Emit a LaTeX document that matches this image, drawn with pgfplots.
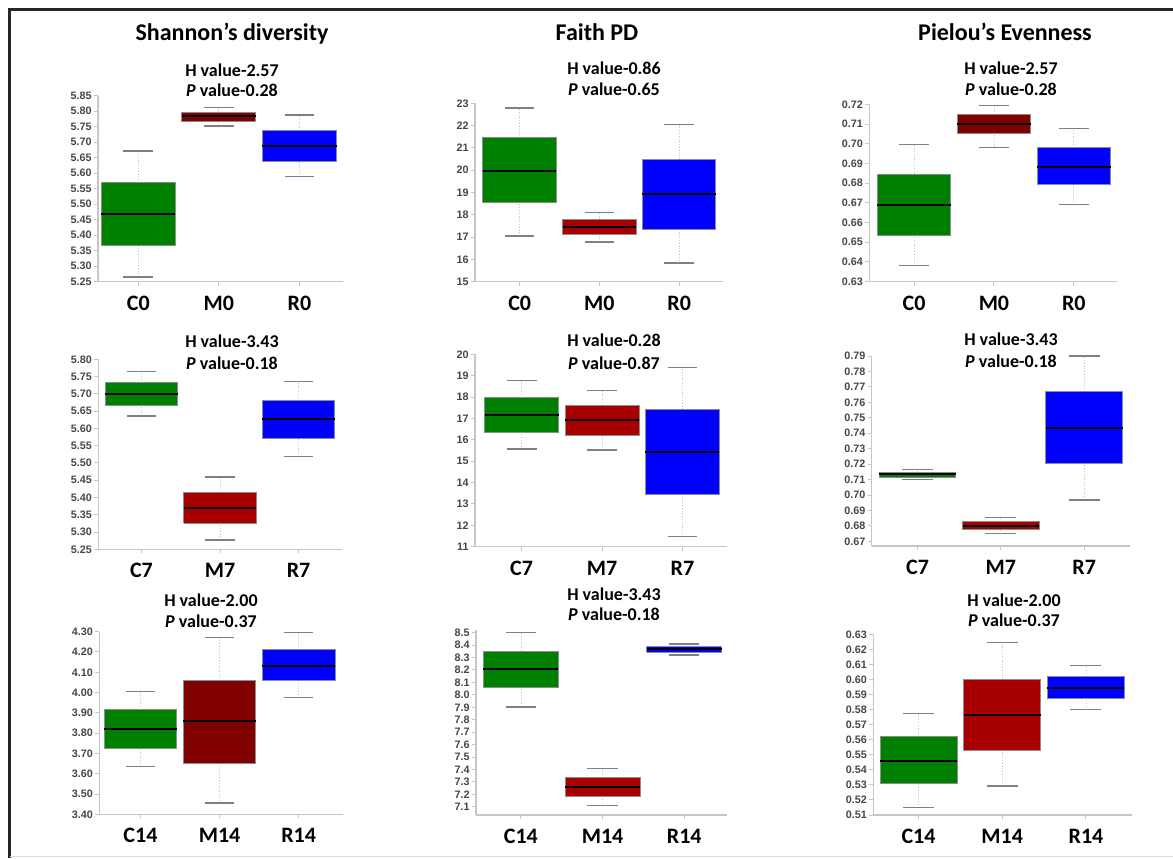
\documentclass[border=0pt]{standalone}
\usepackage{pgfplots}
\pgfplotsset{compat=1.18}
\usepackage{fontspec}
\setmainfont{Carlito}
\newfontfamily\tickff{Liberation Sans}

\definecolor{boxgreen}{RGB}{0,128,0}
\definecolor{boxblue}{RGB}{0,0,255}
\definecolor{maroonA}{RGB}{128,0,0}
\definecolor{maroonB}{RGB}{168,0,0}
\definecolor{axisgray}{RGB}{198,198,198}
\definecolor{edgegray}{RGB}{140,140,140}
\definecolor{capgray}{RGB}{128,128,128}
\definecolor{stemgray}{RGB}{195,195,195}
\definecolor{ticktext}{RGB}{70,70,70}

\newcommand\tickfont{\tickff\bfseries\fontsize{5.4}{6}\selectfont}
\newcommand\catfont{\bfseries\fontsize{11}{12}\selectfont}
\newcommand\statfont{\bfseries\fontsize{9}{10}\selectfont}
\newcommand\titlefont{\bfseries\fontsize{12}{14}\selectfont}

\pgfplotsset{
  panel/.style={
    scale only axis, anchor=south west,
    axis x line*=bottom, axis y line*=left,
    axis line style={draw=axisgray, line width=0.7pt},
    xtick={1,2,3},
    tick style={draw=axisgray, line width=0.5pt},
    major tick length=2pt,
    tick align=outside,
    xticklabel style={font=\catfont, text=black, yshift=-1.5pt},
    yticklabel style={font=\tickfont, text=ticktext, inner sep=1pt},
    /pgf/number format/assume math mode=true,
    scaled y ticks=false,
    clip=false,
  },
  dec2/.style={/pgf/number format/fixed, /pgf/number format/fixed zerofill, /pgf/number format/precision=2},
  dec1/.style={/pgf/number format/fixed, /pgf/number format/fixed zerofill, /pgf/number format/precision=1},
}

% one box: position, lower whisker, lower quartile, median, upper quartile, upper whisker, fill
\newcommand\bx[7]{%
  \pgfmathsetmacro\bl{#1-0.46}\pgfmathsetmacro\br{#1+0.46}%
  \pgfmathsetmacro\cl{#1-0.185}\pgfmathsetmacro\cr{#1+0.185}%
  \edef\drawbox{%
    \noexpand\addplot[stemgray, densely dotted, line width=0.4pt, mark=none]
      coordinates {(#1,#2) (#1,#3)};
    \noexpand\addplot[stemgray, densely dotted, line width=0.4pt, mark=none]
      coordinates {(#1,#5) (#1,#6)};
    \noexpand\addplot[draw=edgegray, line width=0.5pt, fill=#7, mark=none]
      coordinates {(\bl,#3) (\br,#3) (\br,#5) (\bl,#5) (\bl,#3)};
    \noexpand\addplot[black, line width=1pt, mark=none]
      coordinates {(\bl,#4) (\br,#4)};
    \noexpand\addplot[capgray, line width=0.75pt, mark=none]
      coordinates {(\cl,#2) (\cr,#2)};
    \noexpand\addplot[capgray, line width=0.75pt, mark=none]
      coordinates {(\cl,#6) (\cr,#6)};
  }\drawbox}

\begin{document}
\begin{tikzpicture}
\path[use as bounding box] (0,0) rectangle (586.5pt,429pt);
% frame
\draw[black!85, line width=1.6pt] (4.75pt,0pt) -- (4.75pt,424.25pt) -- (586.5pt,424.25pt);
\draw[black!15, line width=0.6pt] (4.75pt,0.75pt) -- (586.5pt,0.75pt);

% column titles
\node[anchor=base, font=\titlefont] at (116pt,408.5pt) {Shannon’s diversity};
\node[anchor=base, font=\titlefont] at (298.5pt,408.5pt) {Faith PD};
\node[anchor=base, font=\titlefont] at (502.5pt,408.5pt) {Pielou’s Evenness};

% Kruskal-Wallis statistics
\node[anchor=base, font=\statfont] at (116pt,390.65pt) {H value-2.57};
\node[anchor=base, font=\statfont] at (116pt,380.65pt) {\textit{P} value-0.28};
\node[anchor=base, font=\statfont] at (307pt,391.5pt) {H value-0.86};
\node[anchor=base, font=\statfont] at (307pt,381.15pt) {\textit{P} value-0.65};
\node[anchor=base, font=\statfont] at (505.5pt,391.5pt) {H value-2.57};
\node[anchor=base, font=\statfont] at (505.5pt,381.25pt) {\textit{P} value-0.28};

\node[anchor=base, font=\statfont] at (116pt,255.35pt) {H value-3.43};
\node[anchor=base, font=\statfont] at (116pt,244.35pt) {\textit{P} value-0.18};
\node[anchor=base, font=\statfont] at (307pt,255.65pt) {H value-0.28};
\node[anchor=base, font=\statfont] at (307pt,244.35pt) {\textit{P} value-0.87};
\node[anchor=base, font=\statfont] at (505.5pt,256pt) {H value-3.43};
\node[anchor=base, font=\statfont] at (505.5pt,245.35pt) {\textit{P} value-0.18};

\node[anchor=base, font=\statfont] at (105.5pt,126pt) {H value-2.00};
\node[anchor=base, font=\statfont] at (105.5pt,115.35pt) {\textit{P} value-0.37};
\node[anchor=base, font=\statfont] at (307pt,128.65pt) {H value-3.43};
\node[anchor=base, font=\statfont] at (307pt,118.65pt) {\textit{P} value-0.18};
\node[anchor=base, font=\statfont] at (507pt,126pt) {H value-2.00};
\node[anchor=base, font=\statfont] at (507pt,115.65pt) {\textit{P} value-0.37};

% ---- day 0 ----
\begin{axis}[panel, dec2, at={(49pt,288.15pt)}, width=122.5pt, height=93pt,
  xmin=0.5, xmax=3.54, ymin=5.25, ymax=5.85,
  ytick={5.25,5.30,5.35,5.40,5.45,5.50,5.55,5.60,5.65,5.70,5.75,5.80,5.85},
  xticklabels={C0,M0,R0}]
  \bx{1}{5.265}{5.366}{5.467}{5.569}{5.671}{boxgreen}
  \bx{2}{5.752}{5.766}{5.784}{5.797}{5.812}{maroonA}
  \bx{3}{5.589}{5.638}{5.688}{5.737}{5.788}{boxblue}
\end{axis}

\begin{axis}[panel, at={(237.5pt,288.15pt)}, width=124pt, height=89.2pt,
  xmin=0.44, xmax=3.55, ymin=15, ymax=23,
  ytick={15,16,17,18,19,20,21,22,23},
  xticklabels={C0,M0,R0}]
  \bx{1}{17.05}{18.55}{19.95}{21.45}{22.8}{boxgreen}
  \bx{2}{16.78}{17.10}{17.45}{17.80}{18.1}{maroonB}
  \bx{3}{15.83}{17.36}{18.95}{20.50}{22.05}{boxblue}
\end{axis}

\begin{axis}[panel, dec2, at={(434.65pt,288.15pt)}, width=123.85pt, height=88.7pt,
  xmin=0.44, xmax=3.54, ymin=0.63, ymax=0.72,
  ytick={0.63,0.64,0.65,0.66,0.67,0.68,0.69,0.70,0.71,0.72},
  xticklabels={C0,M0,R0}]
  \bx{1}{0.6381}{0.6533}{0.6691}{0.6845}{0.6997}{boxgreen}
  \bx{2}{0.6982}{0.7050}{0.7099}{0.7146}{0.7193}{maroonA}
  \bx{3}{0.6691}{0.6791}{0.6884}{0.6980}{0.7078}{boxblue}
\end{axis}

% ---- day 7 ----
\begin{axis}[panel, dec2, at={(49.15pt,154.35pt)}, width=121.7pt, height=95pt,
  xmin=0.45, xmax=3.55, ymin=5.25, ymax=5.80,
  ytick={5.25,5.30,5.35,5.40,5.45,5.50,5.55,5.60,5.65,5.70,5.75,5.80},
  xticklabels={C7,M7,R7}]
  \bx{1}{5.636}{5.666}{5.700}{5.733}{5.765}{boxgreen}
  \bx{2}{5.277}{5.325}{5.369}{5.414}{5.459}{maroonB}
  \bx{3}{5.518}{5.572}{5.626}{5.681}{5.736}{boxblue}
\end{axis}

\begin{axis}[panel, at={(237.5pt,155.65pt)}, width=125.85pt, height=96.2pt,
  xmin=0.42, xmax=3.55, ymin=11, ymax=20,
  ytick={11,12,13,14,15,16,17,18,19,20},
  xticklabels={C7,M7,R7}]
  \bx{1}{15.56}{16.34}{17.16}{17.97}{18.77}{boxgreen}
  \bx{2}{15.52}{16.20}{16.93}{17.60}{18.30}{maroonB}
  \bx{3}{11.47}{13.46}{15.41}{17.43}{19.39}{boxblue}
\end{axis}

\begin{axis}[panel, dec2, at={(435.85pt,156pt)}, width=129.15pt, height=95pt,
  xmin=0.45, xmax=3.55, ymin=0.667, ymax=0.79,
  ytick={0.67,0.68,0.69,0.70,0.71,0.72,0.73,0.74,0.75,0.76,0.77,0.78,0.79},
  xticklabels={C7,M7,R7}]
  \bx{1}{0.7101}{0.7116}{0.7133}{0.7148}{0.7165}{boxgreen}
  \bx{2}{0.6752}{0.6775}{0.6801}{0.6827}{0.6855}{maroonB}
  \bx{3}{0.6969}{0.7202}{0.7432}{0.7669}{0.7900}{boxblue}
\end{axis}

% ---- day 14 ----
\begin{axis}[panel, dec2, at={(49.65pt,21.85pt)}, width=121.85pt, height=91.3pt,
  xmin=0.48, xmax=3.56, ymin=3.40, ymax=4.30,
  ytick={3.40,3.50,3.60,3.70,3.80,3.90,4.00,4.10,4.20,4.30},
  xticklabels={C14,M14,R14}]
  \bx{1}{3.635}{3.725}{3.820}{3.915}{4.005}{boxgreen}
  \bx{2}{3.455}{3.652}{3.860}{4.060}{4.272}{maroonA}
  \bx{3}{3.975}{4.060}{4.130}{4.210}{4.295}{boxblue}
\end{axis}

\begin{axis}[panel, dec1, at={(238pt,21.45pt)}, width=125.35pt, height=92.45pt,
  xmin=0.45, xmax=3.52, ymin=7.033, ymax=8.52,
  ytick={7.1,7.2,7.3,7.4,7.5,7.6,7.7,7.8,7.9,8.0,8.1,8.2,8.3,8.4,8.5},
  xticklabels={C14,M14,R14}]
  \bx{1}{7.904}{8.057}{8.205}{8.352}{8.500}{boxgreen}
  \bx{2}{7.111}{7.186}{7.261}{7.333}{7.408}{maroonB}
  \bx{3}{8.320}{8.341}{8.365}{8.387}{8.408}{boxblue}
\end{axis}

\begin{axis}[panel, dec2, at={(436.65pt,21.5pt)}, width=129.35pt, height=90.35pt,
  xmin=0.46, xmax=3.55, ymin=0.51, ymax=0.63,
  ytick={0.51,0.52,0.53,0.54,0.55,0.56,0.57,0.58,0.59,0.60,0.61,0.62,0.63},
  xticklabels={C14,M14,R14}]
  \bx{1}{0.5149}{0.5306}{0.5461}{0.5620}{0.5775}{boxgreen}
  \bx{2}{0.5293}{0.5527}{0.5766}{0.6003}{0.6247}{maroonB}
  \bx{3}{0.5800}{0.5873}{0.5946}{0.6019}{0.6094}{boxblue}
\end{axis}
\end{tikzpicture}
\end{document}
